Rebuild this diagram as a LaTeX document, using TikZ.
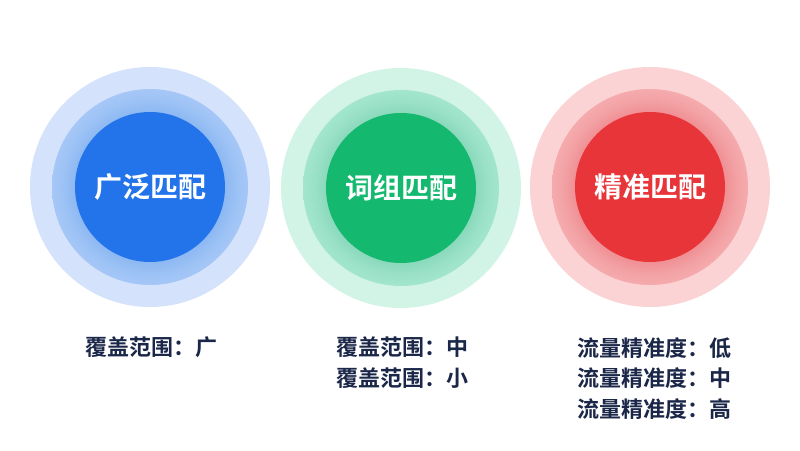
\documentclass[tikz,border=0pt]{standalone}
\usepackage{fontspec}
\newfontfamily\cjk{Noto Sans CJK SC}[BoldFont={Noto Sans CJK SC Bold}]
\definecolor{bgwhite}{HTML}{FFFFFF}
\definecolor{labelnavy}{HTML}{1B2748}
\definecolor{blueOuter}{HTML}{D4E3FB}
\definecolor{blueInner}{HTML}{2374EB}
\definecolor{greenOuter}{HTML}{D1F4E7}
\definecolor{greenInner}{HTML}{14B86F}
\definecolor{redOuter}{HTML}{FCD3D4}
\definecolor{redInner}{HTML}{E8353A}
\pgfdeclareradialshading{blueRing}{\pgfpoint{0bp}{0bp}}{rgb(0bp)=(0.54,0.71,0.95); rgb(19bp)=(0.55,0.72,0.95); rgb(22bp)=(0.61,0.76,0.96); rgb(25bp)=(0.65,0.78,0.97); rgb(50bp)=(0.65,0.78,0.97)}
\pgfdeclareradialshading{greenRing}{\pgfpoint{0bp}{0bp}}{rgb(0bp)=(0.53,0.84,0.73); rgb(19bp)=(0.54,0.85,0.74); rgb(22bp)=(0.60,0.88,0.78); rgb(25bp)=(0.64,0.90,0.81); rgb(50bp)=(0.64,0.90,0.81)}
\pgfdeclareradialshading{redRing}{\pgfpoint{0bp}{0bp}}{rgb(0bp)=(0.94,0.55,0.57); rgb(19bp)=(0.94,0.56,0.58); rgb(22bp)=(0.95,0.63,0.64); rgb(25bp)=(0.96,0.67,0.68); rgb(50bp)=(0.96,0.67,0.68)}
\tikzset{
  outerdisc/.style={circle, inner sep=0pt, minimum size=240pt, fill=#1},
  middisc/.style={circle, inner sep=0pt, minimum size=196pt, shading=#1},
  innerdisc/.style={circle, inner sep=0pt, minimum size=150pt, fill=#1},
  titletext/.style={text=white, font=\cjk\bfseries\fontsize{28pt}{32pt}\selectfont, inner sep=0pt},
  labeltext/.style={text=labelnavy, font=\cjk\bfseries\fontsize{22pt}{30.5pt}\selectfont, inner sep=0pt, anchor=north west, align=left}
}
\begin{document}
\begin{tikzpicture}[x=1pt,y=-1pt]
\fill[bgwhite] (0,0) rectangle (800,450);
\useasboundingbox (0,0) rectangle (800,450);
% blue
\node[outerdisc=blueOuter] (bo) at (150,187) {};
\node[middisc=blueRing] (bm) at (150,187) {};
\node[innerdisc=blueInner] (bi) at (150,187) {};
\node[titletext] (bt) at (bi.center) {广泛匹配};
% green
\node[outerdisc=greenOuter] (go) at (401,188) {};
\node[middisc=greenRing] (gm) at (401,188) {};
\node[innerdisc=greenInner] (gi) at (401,188) {};
\node[titletext] (gt) at (gi.center) {词组匹配};
% red
\node[outerdisc=redOuter] (ro) at (650,187) {};
\node[middisc=redRing] (rm) at (650,187) {};
\node[innerdisc=redInner] (ri) at (650,187) {};
\node[titletext] (rt) at (ri.center) {精准匹配};
% labels
\node[labeltext] (bl) at (85,337) {覆盖范围：广};
\node[labeltext] (gl) at (336,337) {覆盖范围：中\\覆盖范围：小};
\node[labeltext] (rl) at (577,337) {流量精准度：低\\流量精准度：中\\流量精准度：高};
\end{tikzpicture}
\end{document}
